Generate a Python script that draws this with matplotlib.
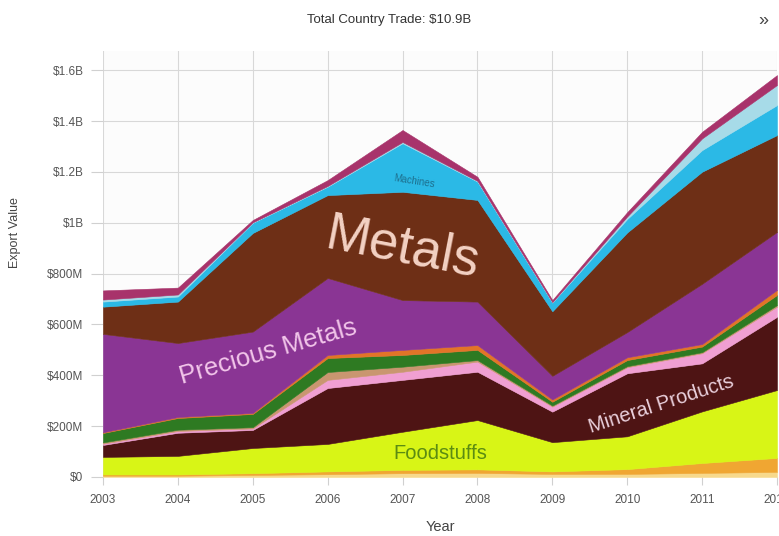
import numpy as np
import matplotlib.pyplot as plt
from matplotlib.ticker import FuncFormatter

plt.rcParams['font.family'] = ['Liberation Sans', 'DejaVu Sans']

years = [2003, 2004, 2005, 2006, 2007, 2008, 2009, 2010, 2011, 2012]

# export values in $M, stacked bottom to top
textiles = [5, 5, 8, 11, 15, 16, 12, 12, 16, 20]
chemicals = [5, 5, 7, 11, 13, 14, 10, 19, 39, 55]
foodstuffs = [69, 73, 99, 108, 150, 194, 115, 129, 203, 267]
mineral = [47, 91, 71, 220, 204, 190, 120, 248, 189, 288]
plastics = [5, 7, 6, 32, 32, 40, 20, 24, 40, 40]
stone = [5, 5, 5, 31, 20, 6, 4, 4, 4, 6]
vegetables = [37, 46, 52, 55, 46, 40, 15, 24, 22, 40]
animal = [3, 4, 4, 12, 20, 19, 9, 11, 10, 20]
precious = [387, 291, 320, 303, 196, 171, 93, 99, 237, 228]
metals = [107, 163, 388, 326, 426, 400, 254, 392, 441, 381]
machines = [20, 20, 40, 33, 191, 72, 34, 53, 85, 118]
transport = [8, 8, 2, 3, 5, 3, 2, 10, 46, 79]
misc = [36, 27, 9, 23, 47, 16, 8, 17, 26, 39]

layers = [textiles, chemicals, foodstuffs, mineral, plastics, stone, vegetables,
          animal, precious, metals, machines, transport, misc]
colors = ['#f7d98c', '#f0a632', '#d8f516', '#4e1414', '#f09fd2', '#c99670',
          '#2e7a22', '#e27428', '#8a3594', '#6e2f16', '#2bb9e6', '#a7dbe8', '#a8336b']

fig = plt.figure(figsize=(7.79, 5.36), dpi=100)
ax = fig.add_axes([0.1322, 0.1101, 0.8652, 0.7948])

ax.stackplot(years, *[np.array(v) * 1e6 for v in layers], colors=colors,
             linewidth=0.4, edgecolor='face', zorder=2)

ax.set_xlim(2003, 2012)
ax.set_ylim(0, 1.676e9)
ax.set_xticks(years)
ax.set_yticks(np.arange(0, 1.7e9, 2e8))


def money(v, pos):
    if v == 0:
        return '$0'
    if v >= 1e9:
        return '${:g}B'.format(round(v / 1e9, 1))
    return '${:g}M'.format(v / 1e6)


ax.yaxis.set_major_formatter(FuncFormatter(money))
ax.grid(True, color='#d8d8d8', linewidth=0.8, zorder=0)
ax.set_axisbelow(True)
ax.set_facecolor('#fcfcfc')
for s in ax.spines.values():
    s.set_visible(False)
ax.tick_params(axis='both', colors='#d0d0d0', labelcolor='#555555', labelsize=8.5,
               width=0.8)
ax.tick_params(axis='y', length=9, pad=5)
ax.tick_params(axis='x', length=6, pad=6)

ax.set_xlabel('Year', fontsize=10.5, color='#444444', labelpad=10)
fig.text(15 / 779, 1 - 233 / 536, 'Export Value', rotation=90, ha='center', va='center',
         fontsize=9, color='#444444')

fig.text(0.5, 0.962, 'Total Country Trade: $10.9B', ha='center', va='center',
         fontsize=9.5, color='#333333')
fig.text(0.98, 0.962, '»', ha='center', va='center', fontsize=13, color='#444444')

# category labels placed inside the areas
ax.text(2007.0, 9.0e8, 'Metals', fontsize=38, color='#f4d2c4', rotation=-11,
        ha='center', va='center', zorder=5)
ax.text(2005.2, 4.9e8, 'Precious Metals', fontsize=18.5, color='#f2c6ea', rotation=16,
        ha='center', va='center', zorder=5)
ax.text(2007.15, 1.165e9, 'Machines', fontsize=7, color='#1d6f8e', rotation=-9,
        ha='center', va='center', zorder=5)
ax.text(2010.45, 2.85e8, 'Mineral Products', fontsize=14.5, color='#ead0dc', rotation=18,
        ha='center', va='center', zorder=5)
ax.text(2007.5, 9.4e7, 'Foodstuffs', fontsize=14.5, color='#5b8c12',
        ha='center', va='center', zorder=5)

fig.savefig('out.png', dpi=100)
